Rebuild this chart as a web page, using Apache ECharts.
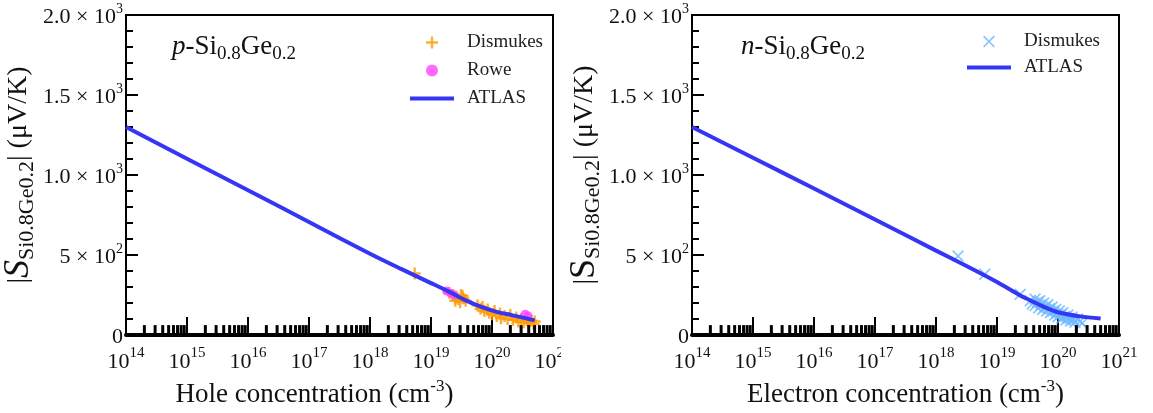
<!DOCTYPE html>
<html><head><meta charset="utf-8">
<script src="https://cdn.jsdelivr.net/npm/echarts@6/dist/echarts.min.js"></script>
<style>html,body{margin:0;padding:0;background:#fff}#c{width:1153px;height:413px}</style>
</head><body><div id="c"></div>
<script>
// ---- data ----
const X_DECADES = [14, 15, 16, 17, 18, 19, 20, 21];
const Y_TICK_VALUES = [0, 500, 1000, 1500, 2000];
const Y_TICK_BASE = ['0', '5 × 10', '1.0 × 10', '1.5 × 10', '2.0 × 10'];
const Y_TICK_EXP = ['', '2', '3', '3', '3'];

const P_ATLAS = [[1e14,1300],[1e15,1102],[1e16,905],[1e17,707],[1e18,508],[3.16e18,415],[1e19,325],[2e19,270],[3.5e19,222],[6.5e19,178],[1.2e20,145],[2.1e20,125],[3.5e20,106],[5e20,92]];
const P_DISMUKES = [[5.4e18,385],[2e19,265],[2.3e19,250],[2.5e19,215],[2.6e19,240],[2.8e19,225],[3e19,205],[3.1e19,250],[3.3e19,245],[3.4e19,230],[3.7e19,215],
  [5.8e19,185],[6.5e19,165],[7e19,175],[7.5e19,150],[8.5e19,160],[9e19,140],[1e20,130],[1.1e20,150],[1.2e20,120],[1.35e20,135],[1.4e20,105],[1.6e20,120],[1.8e20,100],[2e20,125],[2.2e20,95],[2.5e20,110],[2.7e20,85],[3e20,100],[3.3e20,80],[3.7e20,95],[4e20,75],[4.4e20,90],[4.8e20,70],[5e20,85]];
const P_ROWE = [[1.8e19,275],[2.1e19,262],[2.4e19,250],[3.5e20,130],[3.9e20,120]];

const N_ATLAS = [[1e14,1300],[1e15,1108],[1e16,916],[1e17,722],[1e18,528],[3.16e18,432],[1e19,332],[2.4e19,248],[3.5e19,218],[6e19,175],[1e20,143],[2.3e20,117],[5e20,103]];
const N_DISMUKES = [[2.3e18,494],[6.3e18,380],[2.4e19,255],
  [3.5e19,215],[3.8e19,195],[4.2e19,225],[4.2e19,185],[4.6e19,205],[4.8e19,170],[5e19,215],[5.3e19,190],[5.6e19,160],[5.8e19,200],[6.2e19,175],[6.5e19,150],[6.8e19,190],[7.2e19,165],[7.5e19,140],[8e19,175],[8.3e19,150],[8.8e19,125],[9.2e19,160],[9.6e19,135],[1e20,115],[1.05e20,150],[1.1e20,128],[1.15e20,105],[1.2e20,140],[1.3e20,118],[1.35e20,95],[1.45e20,125],[1.5e20,105],[1.6e20,88],[1.7e20,112],[1.8e20,95],[1.9e20,80],[2.1e20,100],[2.3e20,85],[2.5e20,75]];

// ---- styling ----
const FONT = 'Liberation Serif';
const INK = '#111';
const PLUS = 'path://M4,0H6V4H10V6H6V10H4V6H0V4H4Z';
const CROSS = 'path://M1,0L5,4L9,0L10,1L6,5L10,9L9,10L5,6L1,10L0,9L4,5L0,1Z';
const LINE_ICON = 'path://M0,0H44V4H0Z';
const BLUE = '#3535f5';

// minor tick positions (2..9 x each decade)
const MINOR_X = [];
for (let d = X_DECADES[0]; d < X_DECADES[X_DECADES.length - 1]; d++) {
  for (let m = 2; m <= 9; m++) MINOR_X.push(m * Math.pow(10, d));
}

const chart = echarts.init(document.getElementById('c'), null, {renderer: 'canvas'});

function xAxis(gi, title, pad) {
  return {
    type: 'log', logBase: 10, gridIndex: gi, min: 1e14, max: 1e21, interval: 1,
    name: title, nameLocation: 'middle', nameGap: 36,
    nameTextStyle: {fontFamily: FONT, color: INK, padding: pad, rich: {
      b: {fontFamily: FONT, fontSize: 27, color: INK, lineHeight: 30, verticalAlign: 'bottom'},
      s: {fontFamily: FONT, fontSize: 17, color: INK, lineHeight: 17, verticalAlign: 'top'}}},
    axisLine: {show: true, onZero: false, lineStyle: {color: '#000', width: 4}},
    axisTick: {show: true, inside: true, length: 18, lineStyle: {color: '#000', width: 2}},
    minorTick: {show: false},
    splitLine: {show: false},
    axisLabel: {margin: 10, formatter: v => '{b|10}{s|' + Math.round(Math.log10(v)) + '}',
      rich: {
        b: {fontFamily: FONT, fontSize: 22, color: INK, lineHeight: 28, verticalAlign: 'bottom'},
        s: {fontFamily: FONT, fontSize: 15, color: INK, lineHeight: 15, verticalAlign: 'top'}}}
  };
}
function yAxis(gi, sItalic) {
  return {
    type: 'value', gridIndex: gi, min: 0, max: 2000, interval: 500,
    name: '{m||}{S|S}{sub|Si0.8Ge0.2}{m|| (μV/K)}', nameLocation: 'middle', nameGap: 88,
    nameTextStyle: {fontFamily: FONT, rich: {
      m: {fontFamily: FONT, fontSize: 28, color: INK, lineHeight: 30, verticalAlign: 'middle'},
      S: {fontFamily: FONT, fontSize: 36, color: INK, fontStyle: sItalic ? 'italic' : 'normal', lineHeight: 36, verticalAlign: 'middle'},
      sub: {fontFamily: FONT, fontSize: 22, color: INK, lineHeight: 38, verticalAlign: 'bottom'}}},
    axisLine: {show: true, lineStyle: {color: '#000', width: 2}},
    axisTick: {show: true, inside: true, length: 12, lineStyle: {color: '#000', width: 2}},
    minorTick: {show: true, splitNumber: 5, length: 7, lineStyle: {color: '#000', width: 2}},
    splitLine: {show: false},
    axisLabel: {margin: 3, formatter: v => {
      const i = Y_TICK_VALUES.indexOf(v);
      if (i < 0) return '';
      return '{b|' + Y_TICK_BASE[i] + '}' + (Y_TICK_EXP[i] ? '{s|' + Y_TICK_EXP[i] + '}' : '');
    }, rich: {
      b: {fontFamily: FONT, fontSize: 22, color: INK, lineHeight: 26, verticalAlign: 'bottom'},
      s: {fontFamily: FONT, fontSize: 14, color: INK, lineHeight: 14, verticalAlign: 'top'}}}
  };
}
function minorTicks(gi) {
  return {
    type: 'custom', name: 'minor' + gi, xAxisIndex: gi, yAxisIndex: gi, silent: true, clip: false, z: 5,
    data: MINOR_X.map(v => [v, 0]),
    renderItem: (params, api) => {
      const p = api.coord([api.value(0), 0]);
      return {type: 'line', shape: {x1: p[0], y1: p[1], x2: p[0], y2: p[1] - 10}, style: {stroke: '#000', lineWidth: 3}};
    }
  };
}
function annotation(letter, left) {
  return {type: 'text', left: left, top: 33, z: 10, style: {
    text: '{i|' + letter + '}{m|-Si}{sub|0.8}{m|Ge}{sub|0.2}', fill: INK,
    rich: {
      i: {fontFamily: FONT, fontSize: 27, fontStyle: 'italic', fill: INK, lineHeight: 30, verticalAlign: 'top'},
      m: {fontFamily: FONT, fontSize: 27, fill: INK, lineHeight: 30, verticalAlign: 'top'},
      sub: {fontFamily: FONT, fontSize: 19, fill: INK, lineHeight: 31, verticalAlign: 'bottom'}}}};
}

const legendText = {fontFamily: FONT, fontSize: 19, color: '#222', padding: [0, 0, 0, 8]};

chart.setOption({
  animation: false,
  backgroundColor: '#fff',
  grid: [
    {left: 125, top: 15, width: 428, height: 322, show: true, borderColor: '#000', borderWidth: 2, backgroundColor: 'transparent'},
    {left: 692, top: 15, width: 427, height: 321, show: true, borderColor: '#000', borderWidth: 2, backgroundColor: 'transparent'}
  ],
  xAxis: [xAxis(0, '{b|Hole concentration (cm}{s|-3}{b|)}', [0, 50, 0, 0]),
          xAxis(1, '{b|Electron concentration (cm}{s|-3}{b|)}', [0, 0, 0, 0])],
  yAxis: [yAxis(0, true), yAxis(1, false)],
  legend: [
    {left: 405, top: 28, orient: 'vertical', itemWidth: 44, itemHeight: 12, itemGap: 9, selectedMode: false,
      textStyle: legendText,
      data: [{name: 'Dismukes', icon: PLUS}, {name: 'Rowe', icon: 'circle'}, {name: 'ATLAS', icon: LINE_ICON}]},
    {left: 962, top: 27, orient: 'vertical', itemWidth: 44, itemHeight: 12, itemGap: 7, selectedMode: false,
      textStyle: legendText, formatter: n => n.replace(' (n)', ''),
      data: [{name: 'Dismukes (n)', icon: CROSS}, {name: 'ATLAS (n)', icon: LINE_ICON}]}
  ],
  graphic: [
    annotation('p', 172),
    annotation('n', 741),
    {type: 'rect', left: 561, top: 340, z: 100, shape: {width: 18, height: 40}, style: {fill: '#fff'}}
  ],
  series: [
    {name: 'Dismukes', type: 'scatter', xAxisIndex: 0, yAxisIndex: 0, data: P_DISMUKES, symbol: PLUS, symbolSize: 12, itemStyle: {color: '#ff9900'}, z: 2},
    {name: 'Rowe', type: 'scatter', xAxisIndex: 0, yAxisIndex: 0, data: P_ROWE, symbol: 'circle', symbolSize: 9, itemStyle: {color: '#ff44ff'}, z: 2},
    {name: 'ATLAS', type: 'line', xAxisIndex: 0, yAxisIndex: 0, data: P_ATLAS, symbol: 'none', smooth: 0.3, lineStyle: {color: BLUE, width: 4}, itemStyle: {color: BLUE}, z: 3},
    {name: 'Dismukes (n)', type: 'scatter', xAxisIndex: 1, yAxisIndex: 1, data: N_DISMUKES, symbol: CROSS, symbolSize: 12, itemStyle: {color: '#6cb8ff'}, z: 2},
    {name: 'ATLAS (n)', type: 'line', xAxisIndex: 1, yAxisIndex: 1, data: N_ATLAS, symbol: 'none', smooth: 0.3, lineStyle: {color: BLUE, width: 4}, itemStyle: {color: BLUE}, z: 3},
    minorTicks(0), minorTicks(1)
  ]
});
</script></body></html>
